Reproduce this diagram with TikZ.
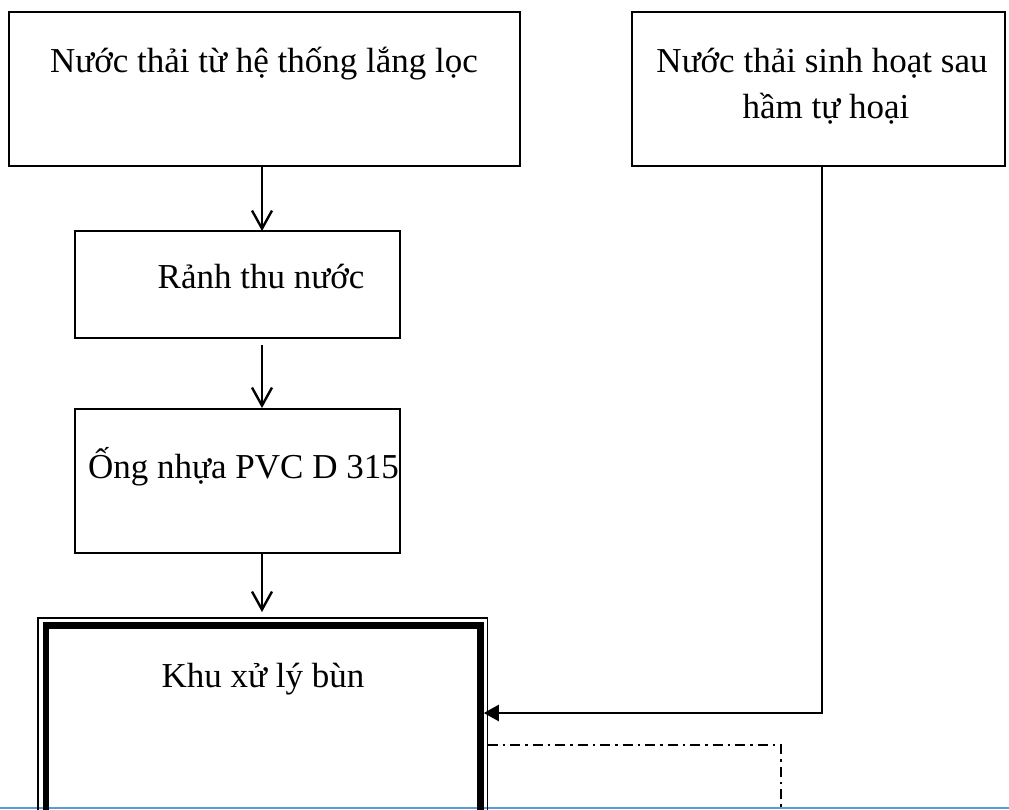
\documentclass[tikz,border=0pt]{standalone}
\usepackage{fontspec}
\setmainfont{Liberation Serif}
\usetikzlibrary{arrows.meta,calc}
\definecolor{pageblue}{RGB}{91,155,213}
\begin{document}
\begin{tikzpicture}[x=1pt,y=-1pt,
  box/.style={draw=black,line width=1.6pt,inner sep=0pt,outer sep=0pt},
  txt/.style={inner sep=0pt,font=\fontsize{35}{41}\selectfont},
  varrow/.style={line width=2.4pt,-{Straight Barb[length=18pt,width=20pt,line width=2.4pt]}},
  farrow/.style={line width=2.2pt,-{Triangle[length=15pt,width=16pt]}},
  dashdotline/.style={line width=2pt,dash pattern=on 10pt off 5pt on 2.5pt off 5pt},
  pageline/.style={draw=pageblue,line width=1.6pt}]
\clip (0,0) rectangle (1009,809);
\fill[white] (0,0) rectangle (1009,809);
\draw[pageline] (0,808) -- (1009,808);
% boxes
\node[box,minimum width=511pt,minimum height=154pt] (b1) at (264.5,89) {};
\node[box,minimum width=325pt,minimum height=107pt] (b2) at (237.5,284.5) {};
\node[box,minimum width=325pt,minimum height=144pt] (b3) at (237.5,481) {};
\node[box,minimum width=373pt,minimum height=154pt] (b5) at (818.5,89) {};
\node[box,line width=1.3pt,minimum width=449.5pt,minimum height=260pt] (b4o) at (262.75,748) {};
\node[draw=black,line width=6.5pt,inner sep=0pt,minimum width=434.5pt,minimum height=240pt] (b4) at (263.25,745.5) {};
% texts
\node[txt,anchor=base] (t1) at (264,72) {Nước thải từ hệ thống lắng lọc};
\node[txt,anchor=base] (t2) at (261,288) {Rảnh thu nước};
\node[txt,anchor=base west] (t3) at (88,478) {Ống nhựa PVC D 315};
\node[txt,anchor=base] (t4) at (263,687) {Khu xử lý bùn};
\node[txt,anchor=base] (t5a) at (822,72) {Nước thải sinh hoạt sau};
\node[txt,anchor=base] (t5b) at (826,118) {hầm tự hoại};
% connectors
\coordinate (ax) at (262,0);
\coordinate (lx) at (822,0);
\coordinate (hy) at (0,713);
\coordinate (dy) at (0,745);
\coordinate (dd) at (781,820);
\draw[varrow] (b1.south -| ax) -- (b2.north -| ax);
\draw[varrow] ([yshift=-7pt]b2.south -| ax) -- ([yshift=1pt]b3.north -| ax);
\draw[varrow] (b3.south -| ax) -- ([yshift=6pt]b4o.north -| ax);
\draw[farrow] (b5.south -| lx) |- (b4.east |- hy);
\draw[dashdotline] (b4o.east |- dy) -| (dd);
\end{tikzpicture}
\end{document}
